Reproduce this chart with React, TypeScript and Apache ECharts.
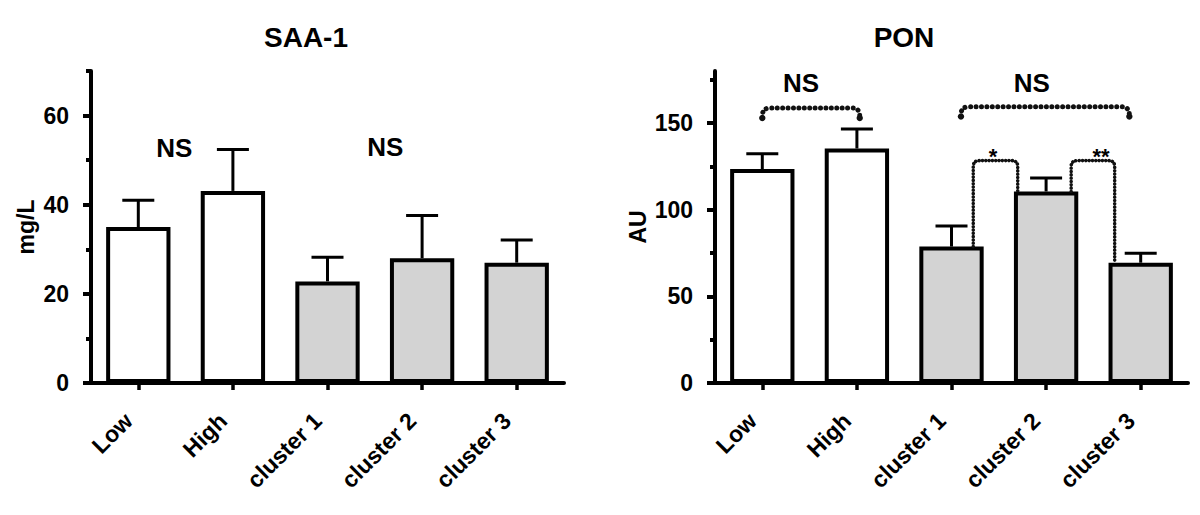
import { useEffect, useRef } from 'react';
import * as echarts from 'echarts';

const categories = ['Low', 'High', 'cluster 1', 'cluster 2', 'cluster 3'];
const groups = ['level', 'level', 'cluster', 'cluster', 'cluster'];

const saaMean = [35.0, 43.1, 22.8, 28.0, 27.0];
const saaSem = [6.0, 9.3, 5.4, 9.6, 5.1];
const ponMean = [123.4, 135.3, 78.7, 110.5, 69.4];
const ponSem = [8.9, 11.3, 11.9, 7.7, 5.4];

const saaMax = 70;
const ponMax = 180;
const saaMajorTicks = [0, 20, 40, 60];
const saaMinorTicks = [10, 30, 50, 70];
const ponMajorTicks = [0, 50, 100, 150];
const ponMinorTicks = [25, 75, 125, 175];

// [categoryIndex, offset in bands, value, text]
const saaLabels: [number, number, number, string][] = [
  [0, 0.38, 52.8, 'NS'],
  [2, 0.61, 53.0, 'NS'],
];
const ponLabels: [number, number, number, string][] = [
  [0, 0.41, 173.0, 'NS'],
  [3, -0.15, 173.0, 'NS'],
  [2, 0.44, 130.4, '*'],
  [3, 0.58, 130.4, '**'],
];
// [fromIdx, fromOffset, fromValue, toIdx, toOffset, toValue, topValue]
const ponBrackets: number[][] = [
  [0, 0.0, 152.9, 1, 0.03, 152.9, 158.7],
  [2, 0.1, 153.7, 4, -0.12, 153.7, 159.4],
  [2, 0.23, 78.7, 3, -0.3, 110.5, 128.3],
  [3, 0.265, 110.5, 4, -0.275, 69.4, 128.3],
];
const ponBracketKinds = ['ns', 'ns', 'sig', 'sig'];

const FONT = "'Liberation Sans', Arial, Helvetica, sans-serif";
const groupColor: Record<string, string> = { level: '#ffffff', cluster: '#d3d3d3' };

function xAxisCfg(gridIndex: number) {
  return {
    type: 'category',
    gridIndex,
    data: categories,
    axisLine: { show: true, lineStyle: { color: '#000', width: 4 } },
    axisTick: { show: true, alignWithLabel: true, length: 7, lineStyle: { color: '#000', width: 3.5 } },
    axisLabel: {
      rotate: 45, margin: 24, interval: 0, fontSize: 23, fontWeight: 'bold',
      color: '#000', fontFamily: FONT, padding: [0, 14, 0, 0],
    },
    splitLine: { show: false },
  };
}

function yMain(gridIndex: number, max: number, ticks: number[], name: string, nameGap: number) {
  return {
    type: 'value', gridIndex, position: 'left', min: 0, max,
    name, nameLocation: 'middle', nameGap,
    nameTextStyle: { fontSize: 23, fontWeight: 'bold', color: '#000', fontFamily: FONT },
    axisLine: { show: true, lineStyle: { color: '#000', width: 4 } },
    axisTick: { show: true, length: 8, customValues: ticks, lineStyle: { color: '#000', width: 4 } },
    axisLabel: { customValues: ticks, margin: 22, fontSize: 23, fontWeight: 'bold', color: '#000', fontFamily: FONT },
    splitLine: { show: false },
  };
}

function yMinor(gridIndex: number, max: number, ticks: number[]) {
  return {
    type: 'value', gridIndex, position: 'left', min: 0, max,
    axisLine: { show: false },
    axisTick: { show: true, length: 5, customValues: ticks, lineStyle: { color: '#000', width: 4 } },
    axisLabel: { show: false },
    splitLine: { show: false },
  };
}

function barSeries(xi: number, yi: number, means: number[]) {
  return {
    type: 'bar', xAxisIndex: xi, yAxisIndex: yi, barWidth: '68%', z: 2,
    itemStyle: { borderColor: '#000', borderWidth: 4 },
    data: means.map((v, i) => ({ value: v, itemStyle: { color: groupColor[groups[i]] } })),
  };
}

function errSeries(xi: number, yi: number, means: number[], sems: number[]) {
  return {
    type: 'custom', xAxisIndex: xi, yAxisIndex: yi, z: 3,
    encode: { x: 0, y: 1 },
    data: means.map((m, i) => [i, m, sems[i]]),
    renderItem: (_p: any, api: any) => {
      const i = api.value(0), m = api.value(1), s = api.value(2);
      const base = api.coord([i, m]);
      const top = api.coord([i, m + s]);
      const half = 16;
      return {
        type: 'group',
        children: [
          { type: 'line', shape: { x1: base[0], y1: base[1], x2: base[0], y2: top[1] }, style: { stroke: '#000', lineWidth: 3 } },
          { type: 'line', shape: { x1: base[0] - half, y1: top[1], x2: base[0] + half, y2: top[1] }, style: { stroke: '#000', lineWidth: 3 } },
        ],
      };
    },
  };
}

function labelSeries(xi: number, yi: number, labels: [number, number, number, string][]) {
  return {
    type: 'custom', xAxisIndex: xi, yAxisIndex: yi, z: 5,
    encode: { x: 0, y: 2 },
    data: labels.map((l) => [l[0], l[1], l[2]]),
    renderItem: (p: any, api: any) => {
      const idx = api.value(0), off = api.value(1), v = api.value(2);
      const band = api.size([1, 0])[0];
      const pt = api.coord([idx, v]);
      const text = labels[p.dataIndex][3];
      const isStar = text.indexOf('*') >= 0;
      return {
        type: 'text',
        x: pt[0] + off * band,
        y: pt[1],
        style: {
          text, fill: '#000', fontSize: isStar ? 22 : 26, fontWeight: 'bold', fontFamily: FONT,
          align: 'center', verticalAlign: 'middle',
        },
      };
    },
  };
}

function bracketSeries(xi: number, yi: number, brackets: number[][], kinds: string[]) {
  return {
    type: 'custom', xAxisIndex: xi, yAxisIndex: yi, z: 4,
    encode: { x: 0, y: 2 },
    data: brackets,
    renderItem: (p: any, api: any) => {
      const fi = api.value(0), fo = api.value(1), fv = api.value(2);
      const ti = api.value(3), to = api.value(4), tv = api.value(5), topV = api.value(6);
      const band = api.size([1, 0])[0];
      const a = api.coord([fi, fv]);
      const b = api.coord([ti, tv]);
      const t = api.coord([fi, topV]);
      const x1 = a[0] + fo * band;
      const x2 = b[0] + to * band;
      const yt = t[1];
      const ns = kinds[p.dataIndex] === 'ns';
      const r = Math.min(ns ? 8 : 6, Math.abs(a[1] - yt), Math.abs(b[1] - yt));
      const d = `M${x1},${a[1]} L${x1},${yt + r} Q${x1},${yt} ${x1 + r},${yt} L${x2 - r},${yt} Q${x2},${yt} ${x2},${yt + r} L${x2},${b[1]}`;
      const children: any[] = [
        {
          type: 'path',
          shape: { pathData: d },
          style: {
            fill: 'none', stroke: '#111', lineWidth: ns ? 5 : 3.6,
            lineDash: ns ? [0.01, 5.4] : [0.01, 3.3], lineCap: 'round',
          },
        },
      ];
      if (ns) {
        children.push({ type: 'circle', shape: { cx: x1, cy: a[1], r: 3.2 }, style: { fill: '#111' } });
        children.push({ type: 'circle', shape: { cx: x2, cy: b[1], r: 3.2 }, style: { fill: '#111' } });
      }
      return { type: 'group', children };
    },
  };
}

export default function App() {
  const ref = useRef<HTMLDivElement>(null);
  useEffect(() => {
    const chart = echarts.init(ref.current!, null, { renderer: 'svg' });
    const option: any = {
      animation: false,
      backgroundColor: '#fff',
      grid: [
        { left: 91, right: 636, top: 71, bottom: 132 },
        { left: 715, right: 12, top: 71, bottom: 132 },
      ],
      xAxis: [xAxisCfg(0), xAxisCfg(1)],
      yAxis: [
        yMain(0, saaMax, saaMajorTicks, 'mg/L', 54),
        yMinor(0, saaMax, saaMinorTicks),
        yMain(1, ponMax, ponMajorTicks, 'AU', 66),
        yMinor(1, ponMax, ponMinorTicks),
      ],
      graphic: [
        { type: 'text', x: 306, y: 37, style: { text: 'SAA-1', fontSize: 28, fontWeight: 'bold', fontFamily: FONT, fill: '#000', align: 'center', verticalAlign: 'middle' } },
        { type: 'text', x: 904, y: 37, style: { text: 'PON', fontSize: 28, fontWeight: 'bold', fontFamily: FONT, fill: '#000', align: 'center', verticalAlign: 'middle' } },
      ],
      series: [
        barSeries(0, 0, saaMean),
        errSeries(0, 0, saaMean, saaSem),
        labelSeries(0, 0, saaLabels),
        barSeries(1, 2, ponMean),
        errSeries(1, 2, ponMean, ponSem),
        bracketSeries(1, 2, ponBrackets, ponBracketKinds),
        labelSeries(1, 2, ponLabels),
      ],
    };
    chart.setOption(option);
    return () => chart.dispose();
  }, []);
  return <div ref={ref} style={{ position: 'absolute', left: 0, top: 0, width: 1200, height: 515 }} />;
}
